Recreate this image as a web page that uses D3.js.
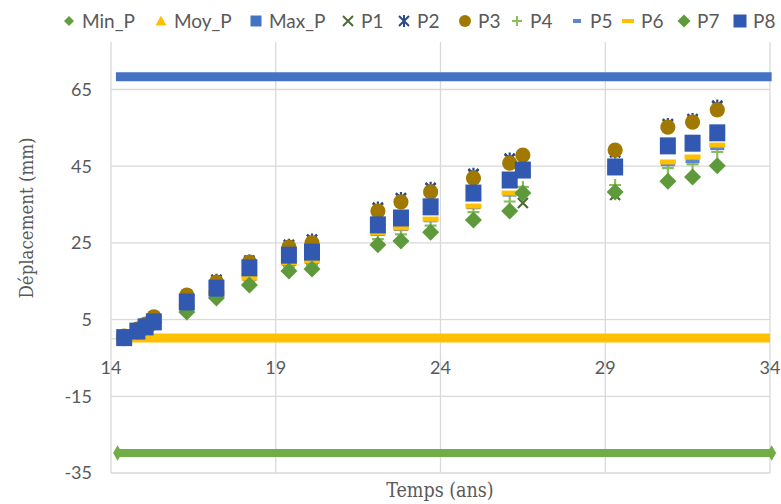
<!DOCTYPE html>
<html><head><meta charset="utf-8">
<script src="https://cdn.jsdelivr.net/npm/d3@7"></script>
<style>body{margin:0;background:#fff}svg{display:block}</style>
</head><body><svg id="c" width="781" height="504"></svg>
<script>
// ---- data ----
const time = [14.4, 14.8, 15.05, 15.3, 16.3, 17.2, 18.2, 19.4, 20.1, 22.1, 22.8, 23.7, 25.0, 26.1, 26.5, 29.3, 30.9, 31.65, 32.4];
const P1 = [0.8, 2.6, 3.9, 5.8, 11.5, 15.3, 20.3, 24.4, 25.8, 34.0, 36.5, 39.2, 42.8, 46.8, 35.4, 37.5, 55.8, 57.0, 60.5];
const P2 = [0.8, 2.6, 3.9, 5.8, 11.5, 15.4, 20.4, 24.5, 25.9, 34.2, 36.7, 39.4, 43.0, 47.0, 46.8, 48.6, 56.0, 57.3, 60.8];
const P3 = [0.7, 2.5, 3.8, 5.7, 11.4, 14.8, 20.0, 23.9, 25.0, 33.3, 35.7, 38.3, 41.9, 45.8, 47.9, 49.2, 55.2, 56.5, 59.7];
const P4 = [0.1, 1.8, 2.9, 4.1, 7.8, 11.2, 15.0, 18.8, 19.2, 26.0, 27.2, 29.5, 33.0, 35.8, 39.6, 40.1, 44.5, 45.5, 48.7];
const P5 = [0.2, 1.9, 3.0, 4.2, 8.3, 11.8, 15.6, 19.5, 20.0, 27.3, 28.6, 30.9, 34.3, 37.6, 42.8, 43.6, 45.5, 46.3, 49.7];
const P6 = [0.2, 1.9, 3.0, 4.2, 8.5, 12.0, 15.8, 19.8, 20.3, 27.6, 28.9, 31.2, 34.6, 38.0, 43.0, 43.8, 46.1, 47.4, 50.5];
const P7 = [0.2, 1.9, 3.0, 4.2, 7.0, 10.6, 14.0, 17.7, 18.2, 24.5, 25.5, 27.8, 31.0, 33.3, 38.0, 38.3, 41.1, 42.2, 45.1];
const P8 = [0.3, 2.0, 3.1, 4.4, 9.6, 13.2, 18.5, 21.8, 22.6, 29.7, 31.5, 34.4, 38.0, 41.4, 44.0, 44.8, 50.3, 51.0, 53.7];
const minX = [14.2, 34.05], minY = [-29.8, -29.8];
const moyX = [14.15, 34.0], moyY = [0.2, 0.2];
const maxX = [14.15, 34.05], maxY = [68.3, 68.3];
const xTicks = [14, 19, 24, 29, 34];
const yTicks = [-35, -15, 5, 25, 45, 65];
const legendNames = ["Min_P","Moy_P","Max_P","P1","P2","P3","P4","P5","P6","P7","P8"];

// ---- layout ----
const svg = d3.select("#c");
const L = 111, R = 770, B = 473, T = 42;
const x = d3.scaleLinear().domain([14, 34]).range([L, R]);
const y = d3.scaleLinear().domain([-35, 65]).range([B, 89.5]);
const grid = "#d9d9d9", txt = "#595959";
const tickFont = "Lato, 'Open Sans', sans-serif";

// gridlines
svg.append("g").selectAll("line").data(yTicks).join("line")
  .attr("x1", L).attr("x2", R).attr("y1", d => y(d)).attr("y2", d => y(d))
  .attr("stroke", grid).attr("stroke-width", 1.3);
svg.append("g").selectAll("line").data(xTicks).join("line")
  .attr("x1", d => x(d)).attr("x2", d => x(d)).attr("y1", T).attr("y2", B)
  .attr("stroke", grid).attr("stroke-width", 1.3);
// horizontal axis at 0
svg.append("line").attr("x1", L).attr("x2", R).attr("y1", y(0)).attr("y2", y(0))
  .attr("stroke", grid).attr("stroke-width", 1.3);

// tick labels
svg.append("g").selectAll("text").data(yTicks).join("text")
  .attr("x", 92).attr("y", d => y(d)).attr("dy", "0.36em").attr("text-anchor", "end")
  .attr("font-family", tickFont).attr("font-size", 18).attr("fill", txt).text(d => d);
svg.append("g").selectAll("text").data(xTicks).join("text")
  .attr("x", d => x(d)).attr("y", y(0) + 29).attr("dy", "0.36em").attr("text-anchor", "middle")
  .attr("font-family", tickFont).attr("font-size", 18).attr("fill", txt).text(d => d);

// axis titles
const titleFont = "'DejaVu Serif Condensed', 'DejaVu Serif', serif";
svg.append("text").attr("x", 440).attr("y", 497).attr("text-anchor", "middle")
  .attr("font-family", titleFont).attr("font-size", 19.5).attr("fill", txt).text("Temps (ans)");
svg.append("text").attr("transform", "translate(33,218) rotate(-90)").attr("text-anchor", "middle")
  .attr("font-family", titleFont).attr("font-size", 18.5).attr("fill", txt).text("Déplacement (mm)");

// constant series drawn as thick lines
const ln = d3.line().x(d => x(d[0])).y(d => y(d[1]));
function band(xs, ys, color, w, cap) {
  svg.append("path").attr("d", ln(xs.map((v, i) => [v, ys[i]])))
    .attr("stroke", color).attr("stroke-width", w).attr("fill", "none").attr("stroke-linecap", cap);
}
band(minX, minY, "#70ad47", 8, "butt");
svg.append("g").selectAll("path").data(minX.map((v, i) => [v, minY[i]])).join("path")
  .attr("transform", d => `translate(${x(d[0])},${y(d[1])})`)
  .attr("d", d3.symbol(d3.symbolDiamond, 70)).attr("fill", "#70ad47");
band(moyX, moyY, "#ffc000", 9, "butt");
band(maxX, maxY, "#4472c4", 9, "butt");

// marker definitions
const S = {
  P1: {c: "#4f6b36", draw: g => g.append("path").attr("d", "M-5,-5L5,5M-5,5L5,-5").attr("stroke", "#4f6b36").attr("stroke-width", 2.2).attr("fill", "none")},
  P2: {c: "#2a4a8a", draw: g => g.append("path").attr("d", "M-5,-5L5,5M-5,5L5,-5M0,-6L0,6").attr("stroke", "#2a4a8a").attr("stroke-width", 2.2).attr("fill", "none")},
  P3: {c: "#a27900", draw: g => g.append("circle").attr("r", 7.6).attr("fill", "#a27900")},
  P4: {c: "#8cbd5c", draw: g => g.append("path").attr("d", "M-6,0L6,0M0,-6L0,6").attr("stroke", "#8cbd5c").attr("stroke-width", 2.2).attr("fill", "none")},
  P5: {c: "#5b86d0", draw: g => g.append("rect").attr("x", -7).attr("y", -2).attr("width", 14).attr("height", 4).attr("fill", "#5b86d0")},
  P6: {c: "#ffc000", draw: g => g.append("rect").attr("x", -8).attr("y", -2.5).attr("width", 16).attr("height", 5).attr("fill", "#ffc000")},
  P7: {c: "#5e9a3c", draw: g => g.append("path").attr("d", "M0,-8.5L8.5,0L0,8.5L-8.5,0Z").attr("fill", "#5e9a3c")},
  P8: {c: "#3159b2", draw: g => g.append("rect").attr("x", -8).attr("y", -8.5).attr("width", 16).attr("height", 17).attr("fill", "#3159b2")}
};
const series = {P1, P2, P3, P4, P5, P6, P7, P8};
Object.keys(series).forEach(k => {
  const gs = svg.append("g").selectAll("g").data(time.map((t, i) => [t, series[k][i]])).join("g")
    .attr("transform", d => `translate(${x(d[0])},${y(d[1])})`);
  gs.each(function () { S[k].draw(d3.select(this)); });
});

// legend
const legX = [69, 161, 256, 348, 404, 465, 517, 577, 628, 684, 740];
const lg = svg.append("g").attr("transform", "translate(0,21)");
legendNames.forEach((n, i) => {
  const g = lg.append("g").attr("transform", `translate(${legX[i]},0)`);
  if (n === "Min_P") g.append("path").attr("d", "M0,-5L5,0L0,5L-5,0Z").attr("fill", "#5fa03c");
  else if (n === "Moy_P") g.append("path").attr("d", "M0,-5.5L5.5,4.5L-5.5,4.5Z").attr("fill", "#ffc000");
  else if (n === "Max_P") g.append("rect").attr("x", -5.5).attr("y", -5.5).attr("width", 11).attr("height", 11).attr("fill", "#4472c4");
  else if (n === "P1") g.append("path").attr("d", "M-5,-5L5,5M-5,5L5,-5").attr("stroke", "#4f6b36").attr("stroke-width", 2).attr("fill", "none");
  else if (n === "P2") g.append("path").attr("d", "M-5,-5L5,5M-5,5L5,-5M0,-6L0,6").attr("stroke", "#2a4a8a").attr("stroke-width", 2).attr("fill", "none");
  else if (n === "P3") g.append("circle").attr("r", 6).attr("fill", "#a27900");
  else if (n === "P4") g.append("path").attr("d", "M-5,0L5,0M0,-5L0,5").attr("stroke", "#8cbd5c").attr("stroke-width", 2).attr("fill", "none");
  else if (n === "P5") g.append("rect").attr("x", -4).attr("y", -2).attr("width", 8).attr("height", 4).attr("fill", "#5b86d0");
  else if (n === "P6") g.append("rect").attr("x", -6).attr("y", -2).attr("width", 12).attr("height", 4).attr("fill", "#ffc000");
  else if (n === "P7") g.append("path").attr("d", "M0,-6.5L6.5,0L0,6.5L-6.5,0Z").attr("fill", "#5e9a3c");
  else if (n === "P8") g.append("rect").attr("x", -6.5).attr("y", -6.5).attr("width", 13).attr("height", 13).attr("fill", "#3159b2");
  g.append("text").attr("x", 13).attr("y", 0).attr("dy", "0.36em")
    .attr("font-family", tickFont).attr("font-size", 19).attr("fill", txt).text(n);
});
</script></body></html>
